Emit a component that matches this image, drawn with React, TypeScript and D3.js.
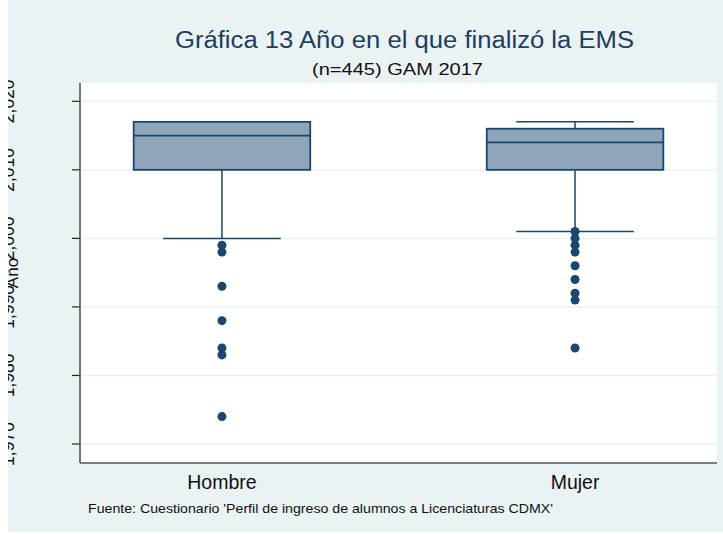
import React from "react";
import * as d3 from "d3";

const categories = ["Hombre", "Mujer"];
const q1 = [2010, 2010];
const medians = [2015, 2014];
const q3 = [2017, 2016];
const whiskerLow = [2000, 2001];
const whiskerHigh = [2017, 2017];
const outliersHombre = [1999, 1998, 1993, 1988, 1984, 1983, 1974];
const outliersMujer = [2001, 2000, 1999, 1998, 1996, 1994, 1992, 1991, 1984];
const yTicks = [1970, 1980, 1990, 2000, 2010, 2020];

const titleText = "Gráfica 13 Año en el que finalizó la EMS";
const subtitleText = "(n=445) GAM 2017";
const yTitle = "Año";
const footnote = "Fuente: Cuestionario 'Perfil de ingreso de alumnos a Licenciaturas CDMX'";

const W = 723;
const H = 534;
const plot = { left: 80, right: 717, top: 83, bottom: 463 };
const FONT = "'Liberation Sans', Arial, Helvetica, sans-serif";
const NAVY = "#1a476f";
const BOXFILL = "#8ea5ba";
const BG = "#eaf2f3";

export default function App() {
  const x = d3
    .scalePoint<string>()
    .domain(categories)
    .range([plot.left, plot.right])
    .padding(0.402);
  const step = x.step();
  const y = d3.scaleLinear().domain([1970, 2020]).range([444, 101.3]);
  const fmt = d3.format(",");
  const outliers = [outliersHombre, outliersMujer];
  const boxW = step * 0.5;
  const capW = step * 0.333;

  return (
    <svg
      width={W}
      height={H}
      style={{ position: "absolute", left: 0, top: 0, display: "block" }}
      fontFamily={FONT}
    >
      <defs>
        <clipPath id="pageClip">
          <rect x={8} y={0} width={W - 8} height={532} />
        </clipPath>
      </defs>
      <rect x={0} y={0} width={W} height={H} fill="#ffffff" />
      <g clipPath="url(#pageClip)">
        <rect x={8} y={0} width={W - 8} height={532} fill={BG} />
        <rect
          x={plot.left}
          y={plot.top}
          width={plot.right - plot.left}
          height={plot.bottom - plot.top}
          fill="#ffffff"
        />
        {yTicks.map((t) => (
          <line
            key={"g" + t}
            x1={plot.left}
            x2={plot.right}
            y1={y(t)}
            y2={y(t)}
            stroke={BG}
            strokeWidth={1.5}
          />
        ))}
        {yTicks.map((t) => (
          <line
            key={"t" + t}
            x1={72}
            x2={plot.left}
            y1={y(t)}
            y2={y(t)}
            stroke="#222"
            strokeWidth={1.2}
          />
        ))}
        {yTicks.map((t) => (
          <text
            key={"l" + t}
            transform={`translate(13.5,${y(t)}) rotate(-90)`}
            textAnchor="middle"
            fontSize={17.5}
            fill="#111"
          >
            {fmt(t)}
          </text>
        ))}
        <text
          transform={`translate(17.5,${(plot.top + plot.bottom) / 2}) rotate(-90)`}
          textAnchor="middle"
          fontSize={17}
          fill="#111"
        >
          {yTitle}
        </text>
        <line
          x1={plot.left}
          x2={plot.left}
          y1={plot.top}
          y2={plot.bottom}
          stroke="#555"
          strokeWidth={1.6}
        />
        <line
          x1={plot.left}
          x2={plot.right}
          y1={plot.bottom}
          y2={plot.bottom}
          stroke="#555"
          strokeWidth={1.6}
        />
        {categories.map((c, i) => {
          const cx = x(c) as number;
          return (
            <g key={c}>
              <line
                x1={cx}
                x2={cx}
                y1={y(q1[i])}
                y2={y(whiskerLow[i])}
                stroke={NAVY}
                strokeWidth={1.5}
              />
              <line
                x1={cx - capW / 2}
                x2={cx + capW / 2}
                y1={y(whiskerLow[i])}
                y2={y(whiskerLow[i])}
                stroke={NAVY}
                strokeWidth={1.5}
              />
              {whiskerHigh[i] > q3[i] && (
                <>
                  <line
                    x1={cx}
                    x2={cx}
                    y1={y(q3[i])}
                    y2={y(whiskerHigh[i])}
                    stroke={NAVY}
                    strokeWidth={1.5}
                  />
                  <line
                    x1={cx - capW / 2}
                    x2={cx + capW / 2}
                    y1={y(whiskerHigh[i])}
                    y2={y(whiskerHigh[i])}
                    stroke={NAVY}
                    strokeWidth={1.5}
                  />
                </>
              )}
              <rect
                x={cx - boxW / 2}
                y={y(q3[i])}
                width={boxW}
                height={y(q1[i]) - y(q3[i])}
                fill={BOXFILL}
                stroke={NAVY}
                strokeWidth={1.8}
              />
              <line
                x1={cx - boxW / 2}
                x2={cx + boxW / 2}
                y1={y(medians[i])}
                y2={y(medians[i])}
                stroke={NAVY}
                strokeWidth={1.8}
              />
              {outliers[i].map((v, j) => (
                <circle key={j} cx={cx} cy={y(v)} r={4.5} fill={NAVY} />
              ))}
              <text
                x={cx}
                y={489}
                textAnchor="middle"
                fontSize={19.5}
                fill="#111"
              >
                {c}
              </text>
            </g>
          );
        })}
        <text
          x={175}
          y={48.3}
          fontSize={23}
          fill="#1e3d5f"
          textLength={459}
          lengthAdjust="spacingAndGlyphs"
        >
          {titleText}
        </text>
        <text
          x={312}
          y={75}
          fontSize={16.5}
          fill="#111"
          textLength={171}
          lengthAdjust="spacingAndGlyphs"
        >
          {subtitleText}
        </text>
        <text
          x={88}
          y={513}
          fontSize={12.6}
          fill="#111"
          textLength={465}
          lengthAdjust="spacingAndGlyphs"
        >
          {footnote}
        </text>
      </g>
    </svg>
  );
}
